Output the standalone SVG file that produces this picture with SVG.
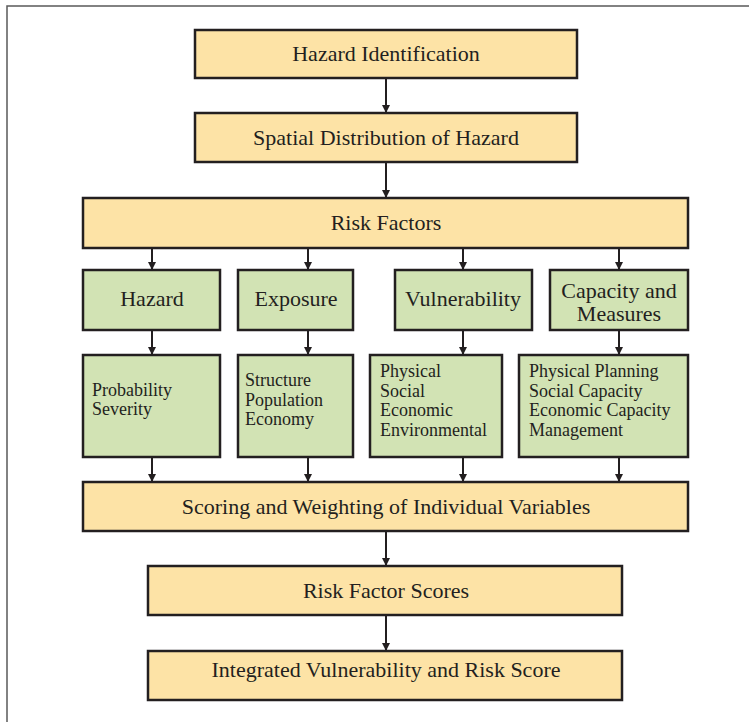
<svg xmlns="http://www.w3.org/2000/svg" width="749" height="722" viewBox="0 0 749 722">
  <style>
    .o { fill: #fde3a6; stroke: #231f20; stroke-width: 2.5; }
    .g { fill: #d2e3b4; stroke: #231f20; stroke-width: 2.5; }
    .t { font-family: "Liberation Serif", "Times New Roman", serif; font-size: 22px; fill: #231f20; text-anchor: middle; }
    .d { font-family: "Liberation Serif", "Times New Roman", serif; font-size: 18px; fill: #231f20; }
    .c { stroke: #231f20; stroke-width: 2; fill: none; marker-end: url(#ah); }
  </style>
  <defs>
    <marker id="ah" viewBox="0 0 10 10" refX="10" refY="5" markerWidth="8" markerHeight="9" markerUnits="userSpaceOnUse" orient="auto">
      <path d="M0,0 L10,5 L0,10 Z" fill="#231f20"/>
    </marker>
  </defs>
  <rect width="749" height="722" fill="#ffffff"/>
  <!-- outer frame -->
  <rect x="7" y="6" width="760" height="730" fill="none" stroke="#5a5a5a" stroke-width="1.5"/>

  <g id="connectors">
    <line class="c" x1="386" y1="78" x2="386" y2="113"/>
    <line class="c" x1="386" y1="162" x2="386" y2="198"/>
    <line class="c" x1="152" y1="248" x2="152" y2="270"/>
    <line class="c" x1="308" y1="248" x2="308" y2="270"/>
    <line class="c" x1="463" y1="248" x2="463" y2="270"/>
    <line class="c" x1="619" y1="248" x2="619" y2="270"/>
    <line class="c" x1="152" y1="330" x2="152" y2="355"/>
    <line class="c" x1="308" y1="330" x2="308" y2="355"/>
    <line class="c" x1="463" y1="330" x2="463" y2="355"/>
    <line class="c" x1="619" y1="330" x2="619" y2="355"/>
    <line class="c" x1="152" y1="457" x2="152" y2="482"/>
    <line class="c" x1="308" y1="457" x2="308" y2="482"/>
    <line class="c" x1="463" y1="457" x2="463" y2="482"/>
    <line class="c" x1="619" y1="457" x2="619" y2="482"/>
    <line class="c" x1="386" y1="531" x2="386" y2="566"/>
    <line class="c" x1="386" y1="615" x2="386" y2="651"/>
  </g>

  <g id="hazard-identification">
    <rect class="o" x="195" y="30" width="382" height="48"/>
    <text class="t" x="386" y="61">Hazard Identification</text>
  </g>
  <g id="spatial-distribution">
    <rect class="o" x="195" y="113" width="382" height="49"/>
    <text class="t" x="386" y="145">Spatial Distribution of Hazard</text>
  </g>
  <g id="risk-factors">
    <rect class="o" x="83" y="198" width="605" height="50"/>
    <text class="t" x="386" y="230">Risk Factors</text>
  </g>

  <g id="hazard">
    <rect class="g" x="83" y="270" width="137" height="60"/>
    <text class="t" x="152" y="306">Hazard</text>
  </g>
  <g id="exposure">
    <rect class="g" x="238" y="270" width="115" height="60"/>
    <text class="t" x="296" y="306">Exposure</text>
  </g>
  <g id="vulnerability">
    <rect class="g" x="395" y="270" width="137" height="60"/>
    <text class="t" x="463" y="306">Vulnerability</text>
  </g>
  <g id="capacity">
    <rect class="g" x="550" y="270" width="138" height="60"/>
    <text class="t" x="619" y="298">Capacity and</text>
    <text class="t" x="619" y="321">Measures</text>
  </g>

  <g id="hazard-detail">
    <rect class="g" x="83" y="355" width="137" height="102"/>
    <text class="d" x="92" y="396">Probability</text>
    <text class="d" x="92" y="415">Severity</text>
  </g>
  <g id="exposure-detail">
    <rect class="g" x="238" y="355" width="115" height="102"/>
    <text class="d" x="245" y="386">Structure</text>
    <text class="d" x="245" y="406">Population</text>
    <text class="d" x="245" y="425">Economy</text>
  </g>
  <g id="vulnerability-detail">
    <rect class="g" x="370" y="355" width="132" height="102"/>
    <text class="d" x="380" y="377">Physical</text>
    <text class="d" x="380" y="397">Social</text>
    <text class="d" x="380" y="416">Economic</text>
    <text class="d" x="380" y="436">Environmental</text>
  </g>
  <g id="capacity-detail">
    <rect class="g" x="519" y="355" width="169" height="102"/>
    <text class="d" x="529" y="377">Physical Planning</text>
    <text class="d" x="529" y="397">Social Capacity</text>
    <text class="d" x="529" y="416">Economic Capacity</text>
    <text class="d" x="529" y="436">Management</text>
  </g>

  <g id="scoring">
    <rect class="o" x="83" y="482" width="605" height="49"/>
    <text class="t" x="386" y="514">Scoring and Weighting of Individual Variables</text>
  </g>
  <g id="risk-factor-scores">
    <rect class="o" x="148" y="566" width="474" height="49"/>
    <text class="t" x="386" y="598">Risk Factor Scores</text>
  </g>
  <g id="integrated-score">
    <rect class="o" x="148" y="651" width="474" height="49"/>
    <text class="t" x="386" y="677">Integrated Vulnerability and Risk Score</text>
  </g>
</svg>
